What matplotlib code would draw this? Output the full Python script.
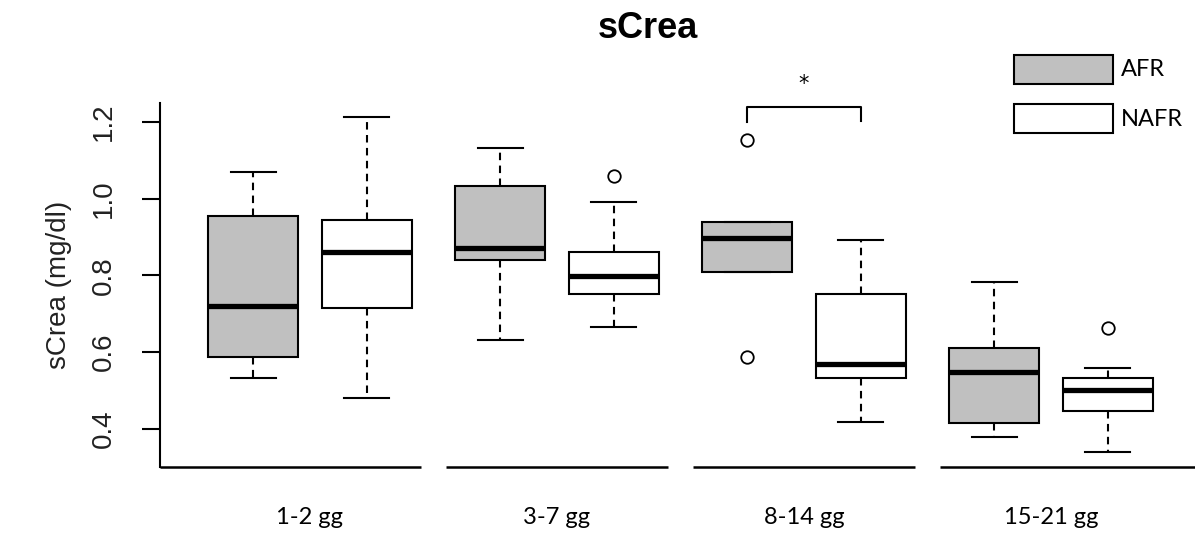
import numpy as np
import matplotlib.pyplot as plt
from matplotlib.patches import Rectangle

# box statistics (sCrea, mg/dl)
groups = ["1-2 gg", "3-7 gg", "8-14 gg", "15-21 gg"]

afr_lo = [0.532, 0.631, 0.808, 0.378]
afr_q1 = [0.586, 0.840, 0.808, 0.414]
afr_med = [0.720, 0.871, 0.897, 0.547]
afr_q3 = [0.955, 1.033, 0.939, 0.610]
afr_hi = [1.069, 1.132, 0.939, 0.782]
afr_out = [[], [], [1.153, 0.586], []]

nafr_lo = [0.479, 0.665, 0.417, 0.338]
nafr_q1 = [0.714, 0.751, 0.532, 0.445]
nafr_med = [0.861, 0.798, 0.568, 0.500]
nafr_q3 = [0.944, 0.861, 0.751, 0.532]
nafr_hi = [1.213, 0.991, 0.892, 0.558]
nafr_out = [[], [1.059], [], [0.662]]

yticks = [0.4, 0.6, 0.8, 1.0, 1.2]
sig_group = 2  # the "*" bracket sits over 8-14 gg


def make_stats(lo, q1, med, q3, hi, out):
    stats = []
    for i in range(len(lo)):
        stats.append(dict(whislo=lo[i], q1=q1[i], med=med[i], q3=q3[i],
                          whishi=hi[i], fliers=out[i]))
    return stats


fig = plt.figure(figsize=(11.95, 5.33), dpi=100)
ax = fig.add_axes([0.1339, 0.1238, 0.8661, 0.683])

pos = np.arange(1, len(groups) + 1)
off = 0.23
w = 0.364

line_kw = dict(color="black", linewidth=1.5)
for stats, shift, fc in [(make_stats(afr_lo, afr_q1, afr_med, afr_q3, afr_hi, afr_out), -off, "#c0c0c0"),
                         (make_stats(nafr_lo, nafr_q1, nafr_med, nafr_q3, nafr_hi, nafr_out), off, "white")]:
    ax.bxp(stats, positions=pos + shift, widths=w, patch_artist=True,
           boxprops=dict(facecolor=fc, edgecolor="black", linewidth=1.5),
           medianprops=dict(color="black", linewidth=3.8, solid_capstyle="butt"),
           whiskerprops=dict(color="black", linewidth=1.5, linestyle=(0, (3.6, 2.6))),
           capprops=line_kw,
           flierprops=dict(marker="o", markersize=9, markerfacecolor="white",
                           markeredgecolor="black", markeredgewidth=1.3))

ax.set_xlim(0.393, 4.583)
ax.set_ylim(0.30, 1.25)

# y axis in R style
ax.spines["top"].set_visible(False)
ax.spines["right"].set_visible(False)
ax.spines["bottom"].set_visible(False)
ax.spines["left"].set_linewidth(1.5)
ax.set_yticks(yticks)
ax.set_yticklabels([f"{t:.1f}" for t in yticks], rotation=90, va="center",
                   family=["Liberation Sans", "DejaVu Sans"], fontsize=20, color="#222222")
ax.tick_params(axis="y", length=13, width=1.5, pad=18)

# x axis drawn as one segment under each group
ax.set_xticks(pos)
ax.set_xticklabels(groups, family=["Lato", "DejaVu Sans"], fontsize=17)
ax.tick_params(axis="x", length=0, pad=29)
for i, p in enumerate(pos):
    x0 = ax.get_xlim()[0] if i == 0 else p - 0.45
    x1 = ax.get_xlim()[1] if i == len(pos) - 1 else p + 0.45
    ax.plot([x0, x1], [0.30, 0.30], color="black", linewidth=1.8, clip_on=False,
            solid_capstyle="butt")

ax.set_ylabel("sCrea (mg/dl)", family=["Liberation Sans", "DejaVu Sans"], fontsize=20,
              labelpad=14, color="#222222")

# significance bracket
gx = pos[sig_group]
ax.plot([gx - off, gx - off, gx + off, gx + off], [1.20, 1.239, 1.239, 1.203],
        color="black", linewidth=1.5, clip_on=False)
ax.text(gx, 1.30, "*", ha="center", va="center", fontsize=15, clip_on=False)

fig.text(0.542, 0.946, "sCrea", ha="center", va="center", fontsize=26, fontweight="bold",
         family=["Liberation Sans", "DejaVu Sans"])

# legend
for lab, fc, ytop in [("AFR", "#c0c0c0", 55), ("NAFR", "white", 104)]:
    fig.patches.append(Rectangle((1014 / 1195, 1 - (ytop + 29) / 533), 99 / 1195, 29 / 533,
                                 transform=fig.transFigure, facecolor=fc,
                                 edgecolor="black", linewidth=1.5))
    fig.text(1121 / 1195, 1 - (ytop + 15) / 533, lab, ha="left", va="center",
             fontsize=17, family=["Lato", "DejaVu Sans"])

fig.savefig("out.png", dpi=100)
